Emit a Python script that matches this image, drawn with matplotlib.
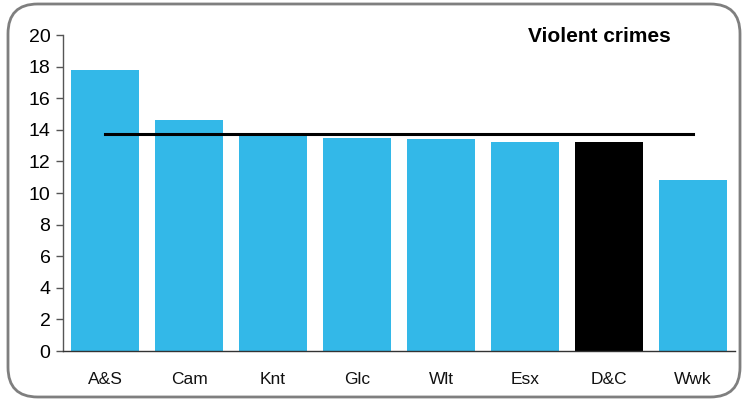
import matplotlib
matplotlib.use("Agg")
import matplotlib.pyplot as plt
from matplotlib.patches import FancyBboxPatch

categories = ["A&S", "Cam", "Knt", "Glc", "Wlt", "Esx", "D&C", "Wwk"]
values = [17.8, 14.6, 13.7, 13.5, 13.4, 13.2, 13.2, 10.8]
average = 13.75
highlight = "D&C"
title = "Violent crimes"
yticks = [0, 2, 4, 6, 8, 10, 12, 14, 16, 18, 20]

plt.rcParams['font.family'] = ['Liberation Sans', 'DejaVu Sans']

fig = plt.figure(figsize=(7.42, 4.03), dpi=100)
ax = fig.add_axes([63/742, 1-351/403, (735-63)/742, (351-35)/403])

x = list(range(len(categories)))
colors = ["#000000" if c == highlight else "#33b8e8" for c in categories]
ax.bar(x, values, width=0.81, color=colors, zorder=2)
ax.plot(x, [average]*len(x), color="black", lw=2.2, zorder=3)

ax.set_xlim(-0.5, len(categories)-0.5)
ax.set_ylim(0, 20)
ax.set_yticks(yticks)
ax.set_yticklabels([str(t) for t in yticks], fontsize=14)
ax.set_xticks(x)
ax.set_xticklabels(categories, fontsize=12.5, color="#111111")
ax.tick_params(axis='x', length=0, pad=15)
ax.tick_params(axis='y', direction='out', length=5, width=1, color='#555555', pad=4)
for s in ["top", "right"]:
    ax.spines[s].set_visible(False)
ax.spines["left"].set_color("#555555")
ax.spines["bottom"].set_color("#333333")
ax.spines["left"].set_linewidth(1)
ax.spines["bottom"].set_linewidth(1)

ax.text(599/742, 1-36/403, title, transform=fig.transFigure, ha='center', va='center',
        fontsize=15, fontweight='bold')

border = FancyBboxPatch((8/742, 6/403), (740-8)/742, (399-6)/403,
                        boxstyle="round,pad=0,rounding_size=0.04",
                        transform=fig.transFigure, fill=False, edgecolor="#7f7f7f",
                        lw=2, mutation_aspect=742/403)
fig.patches.append(border)

fig.savefig("out.png", dpi=100)
